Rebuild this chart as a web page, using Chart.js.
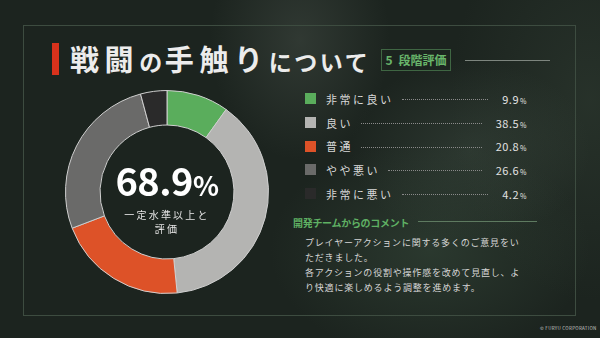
<!DOCTYPE html>
<html lang="ja">
<head>
<meta charset="utf-8">
<script src="https://cdn.jsdelivr.net/npm/chart.js@4"></script>
<style>
  html, body { margin: 0; padding: 0; }
  body {
    width: 600px; height: 338px; overflow: hidden;
    font-family: "Noto Sans CJK JP", "Noto Sans", sans-serif;
    color: #dcdcdc;
  }
  #stage {
    position: relative; width: 600px; height: 338px; overflow: hidden;
    background:
      radial-gradient(ellipse 90px 120px at 300px 40px, rgba(120,130,120,0.22), rgba(0,0,0,0)),
      radial-gradient(ellipse 120px 90px at 470px 150px, rgba(90,110,95,0.25), rgba(0,0,0,0)),
      radial-gradient(ellipse 160px 110px at 430px 250px, rgba(70,95,75,0.35), rgba(0,0,0,0)),
      radial-gradient(ellipse 140px 200px at 590px 100px, rgba(60,75,62,0.35), rgba(0,0,0,0)),
      #1c241f;
  }
  #frame {
    position: absolute; left: 23px; top: 25px; width: 553px; height: 291px;
    border: 1px solid #3d4c40; box-sizing: border-box;
  }
  #redbar { position: absolute; left: 52px; top: 43px; width: 7px; height: 32px; background: #d8321c; }
  #title {
    position: absolute; left: 70px; top: 36px; white-space: nowrap;
    font-weight: 700; color: #ececec; line-height: 44px;
  }
  #title .b { font-size: 29px; letter-spacing: 5.6px; }
  #title .s { font-size: 23px; letter-spacing: 2.6px; }
  #badge {
    position: absolute; left: 381px; top: 49px; width: 70px; height: 22px;
    border: 1px solid #3f6643; box-sizing: border-box;
    color: #69b56b; font-size: 12px; font-weight: 700; line-height: 20px; text-align: center;
    word-spacing: 3px;
  }
  #tline { position: absolute; left: 465px; top: 60px; width: 85px; height: 1px; background: #7d857e; }
  #chartBox { position: absolute; left: 65px; top: 90px; width: 204px; height: 204px; }
  #center { position: absolute; left: 67px; top: 160px; width: 200px; text-align: center; }
  #big { font-size: 38px; font-weight: 700; color: #ffffff; line-height: 40px; letter-spacing: -0.5px; }
  #big small { font-size: 27px; }
  #sub { font-size: 10px; letter-spacing: 2.2px; line-height: 14px; color: #e6e6e6; margin-top: 3px; }
  #legend { position: absolute; left: 305px; top: 87px; width: 222px; }
  .row { display: flex; align-items: center; height: 23.7px; font-size: 11px; }
  .sw { width: 11px; height: 11px; margin-right: 10px; flex: none; }
  .lab { letter-spacing: 2.5px; color: #d8d8d8; white-space: nowrap; }
  .dots { flex: 1; border-bottom: 1px dotted #8a8a8a; margin: 2px 14px 0 8px; height: 0; }
  .val { color: #e2e2e2; white-space: nowrap; text-align: right; letter-spacing: 0.5px; }
  .val small { font-size: 7px; margin-left: 1px; }
  #chead {
    position: absolute; left: 293px; top: 215px; font-size: 10px; font-weight: 700;
    color: #5fb063; white-space: nowrap; letter-spacing: -0.3px;
  }
  #cline { position: absolute; left: 418px; top: 221px; width: 119px; height: 1px; background: #5e7a60; }
  #body {
    position: absolute; left: 305px; top: 235px; font-size: 9px; letter-spacing: 0.8px;
    line-height: 15px; color: #d6d6d6; white-space: nowrap;
  }
  #copy { position: absolute; left: 540px; top: 325px; font-size: 4.5px; color: #c8c8c8; letter-spacing: 0.3px; white-space: nowrap; }
</style>
</head>
<body>
<div id="stage">
  <div id="frame"></div>
  <div id="redbar"></div>
  <div id="title"><span class="b">戦闘</span><span class="s">の</span><span class="b">手触り</span><span class="s">について</span></div>
  <div id="badge">5 段階評価</div>
  <div id="tline"></div>

  <div id="chartBox"><canvas id="donut" width="204" height="204"></canvas></div>
  <div id="center">
    <div id="big"></div>
    <div id="sub">一定水準以上と<br>評価</div>
  </div>

  <div id="legend"></div>

  <div id="chead">開発チームからのコメント</div>
  <div id="cline"></div>
  <div id="body">プレイヤーアクションに関する多くのご意見をい<br>ただきました。<br>各アクションの役割や操作感を改めて見直し、よ<br>り快適に楽しめるよう調整を進めます。</div>
  <div id="copy">© FURYU CORPORATION</div>
</div>

<script>
// 5段階評価の内訳 (%)
const labels = ['非常に良い', '良い', '普通', 'やや悪い', '非常に悪い'];
const values = [9.9, 38.5, 20.8, 26.6, 4.2];
const colors = ['#5aad5c', '#b4b4b2', '#dd5228', '#6a6a69', '#2a2a2a'];
const positiveShare = 68.9;

// 中央の数字
document.getElementById('big').innerHTML = positiveShare.toFixed(1) + '<small>%</small>';

// 凡例
const legend = document.getElementById('legend');
labels.forEach((l, i) => {
  const row = document.createElement('div');
  row.className = 'row';
  row.innerHTML =
    '<span class="sw" style="background:' + colors[i] + '"></span>' +
    '<span class="lab">' + l + '</span>' +
    '<span class="dots"></span>' +
    '<span class="val">' + values[i].toFixed(1) + '<small>%</small></span>';
  legend.appendChild(row);
});

// ドーナツ
const ctx = document.getElementById('donut').getContext('2d');
const chart = new Chart(ctx, {
  type: 'doughnut',
  data: {
    labels: labels,
    datasets: [{
      data: values,
      backgroundColor: colors,
      borderColor: '#cfcfcf',
      borderWidth: 1,
    }],
  },
  options: {
    responsive: false,
    animation: false,
    cutout: '66%',
    rotation: 0,
    layout: { padding: 0 },
    plugins: {
      legend: { display: false },
      tooltip: { enabled: false },
    },
  },
});
</script>
</body>
</html>
